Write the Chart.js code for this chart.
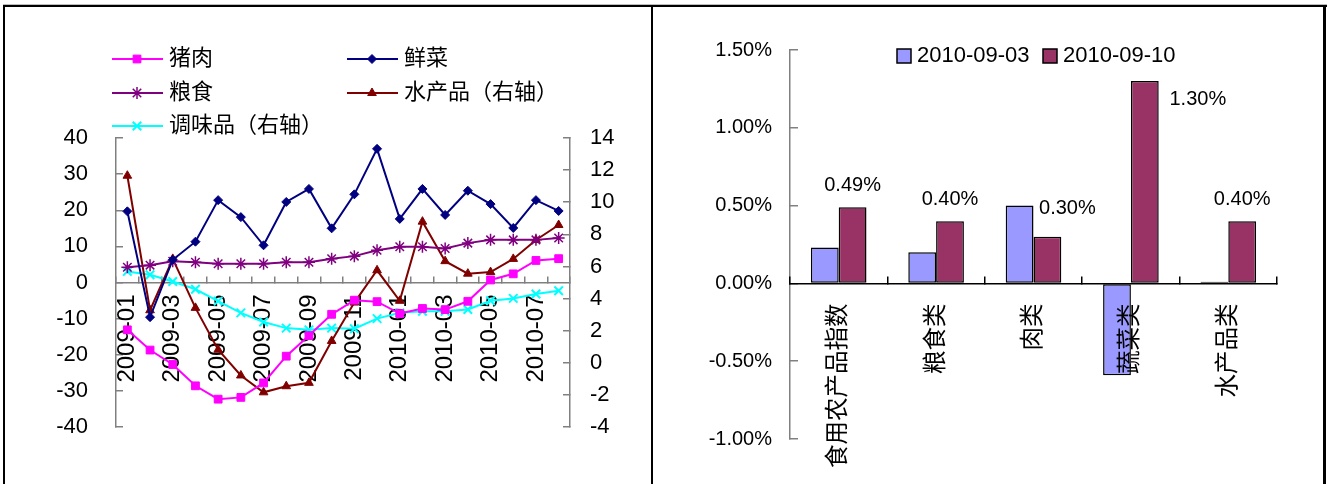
<!DOCTYPE html>
<html>
<head>
<meta charset="utf-8">
<script src="https://cdn.jsdelivr.net/npm/chart.js@4.4.1/dist/chart.umd.min.js"></script>
<style>
  html, body { margin: 0; padding: 0; background: #fff; }
  body { width: 1329px; height: 484px; position: relative; overflow: hidden; }
  canvas { position: absolute; top: 0; }
  #price { left: 0; }
  #weekly { left: 654px; }
  .frame { position: absolute; background: #000; }
</style>
</head>
<body>
<canvas id="price" width="651" height="484"></canvas>
<canvas id="weekly" width="668" height="484"></canvas>
<div class="frame" style="left:3px;top:4px;width:1324px;height:1px;background:#bbb"></div>
<div class="frame" style="left:3px;top:5px;width:1324px;height:2px"></div>
<div class="frame" style="left:3px;top:5px;width:2px;height:479px"></div>
<div class="frame" style="left:651px;top:5px;width:2px;height:479px"></div>
<div class="frame" style="left:1323px;top:5px;width:3px;height:479px"></div>
<script>
// 左图：月度同比（左轴 %），水产品、调味品用右轴
const MONTHS = ['2009-01', '2009-02', '2009-03', '2009-04', '2009-05', '2009-06', '2009-07',
                '2009-08', '2009-09', '2009-10', '2009-11', '2009-12', '2010-01', '2010-02',
                '2010-03', '2010-04', '2010-05', '2010-06', '2010-07', '2010-08'];
const PORK   = [-13.1, -18.7, -22.7, -28.6, -32.3, -31.8, -27.8, -20.4, -14.7, -8.8,
                -4.9, -5.3, -8.6, -7.2, -7.5, -5.2, 0.7, 2.4, 6.1, 6.6];
const VEG    = [19.7, -9.6, 6.3, 11.3, 22.8, 18.1, 10.3, 22.3, 25.9, 15.0,
                24.4, 37.0, 17.6, 25.9, 18.7, 25.4, 21.7, 15.1, 22.8, 19.8];
const GRAIN  = [4.2, 4.8, 5.9, 5.6, 5.2, 5.2, 5.2, 5.6, 5.6, 6.6,
                7.3, 8.9, 9.9, 9.9, 9.4, 10.9, 11.8, 11.8, 11.8, 12.3];
const AQUA   = [11.65, 3.27, 6.47, 3.42, 0.81, -0.79, -1.84, -1.46, -1.25, 1.36,
                3.75, 5.76, 3.86, 8.79, 6.33, 5.55, 5.65, 6.47, 7.65, 8.58];
const SEASON = [5.69, 5.48, 5.06, 4.58, 3.84, 3.11, 2.54, 2.16, 2.05, 2.16,
                2.12, 2.75, 3.11, 3.21, 3.21, 3.32, 3.86, 4.01, 4.28, 4.49];
const LEFT_TICKS  = [-40, -30, -20, -10, 0, 10, 20, 30, 40];
const RIGHT_TICKS = [-4, -2, 0, 2, 4, 6, 8, 10, 12, 14];

// 右图：周环比
const CATS  = ['食用农产品指数', '粮食类', '肉类', '蔬菜类', '水产品类'];
const WEEKS = ['2010-09-03', '2010-09-10'];
const WEEK1 = [0.23, 0.20, 0.50, -0.59, 0.01];
const WEEK2 = [0.49, 0.40, 0.30, 1.30, 0.40];
const PCT_TICKS = [-1.0, -0.5, 0, 0.5, 1.0, 1.5];

const FONT = '"Liberation Sans", Arial, "Noto Sans CJK SC", sans-serif';
const AXIS_GRAY = '#808080';
Chart.defaults.font.family = FONT;
Chart.defaults.color = '#000';

// 图例位置（画布坐标）：线段起点 x、行中心 y
const LEGEND1_POS = [[112, 59], [347, 59], [112, 93], [347, 93], [112, 126]];
const LEGEND2_POS = [[243, 56], [389, 56]];
// 数据标签相对柱顶的偏移（Excel 手动摆放）
const LABEL_DX = [0, 0, 20, 53, 0];
const LABEL_DY = [-22, -22, -28, 18, -22];

const lineLegend = {
  id: 'lineLegend',
  afterDraw(chart) {
    const ctx = chart.ctx;
    ctx.save();
    chart.data.datasets.forEach((ds, i) => {
      const [x, y] = LEGEND1_POS[i];
      ctx.strokeStyle = ds.borderColor;
      ctx.lineWidth = 2;
      ctx.beginPath(); ctx.moveTo(x, y); ctx.lineTo(x + 51, y); ctx.stroke();
      ctx.fillStyle = ds.pointBackgroundColor;
      ctx.strokeStyle = ds.pointBorderColor;
      ctx.lineWidth = ds.pointBorderWidth;
      Chart.helpers.drawPoint(ctx, {
        pointStyle: ds.pointStyle, radius: ds.pointRadius, rotation: 0, borderWidth: ds.pointBorderWidth
      }, x + 25, y);
      ctx.fillStyle = '#000';
      ctx.font = '22px ' + FONT;
      ctx.textAlign = 'left';
      ctx.textBaseline = 'middle';
      ctx.fillText(ds.label, x + 57, y);
    });
    ctx.restore();
  }
};

const barLegend = {
  id: 'barLegend',
  afterDraw(chart) {
    const ctx = chart.ctx;
    ctx.save();
    chart.data.datasets.forEach((ds, i) => {
      const [x, y] = LEGEND2_POS[i];
      ctx.fillStyle = ds.backgroundColor;
      ctx.fillRect(x, y - 7, 14, 14);
      ctx.strokeStyle = '#000';
      ctx.lineWidth = 1.5;
      ctx.strokeRect(x, y - 7, 14, 14);
      ctx.fillStyle = '#000';
      ctx.font = '22px ' + FONT;
      ctx.textAlign = 'left';
      ctx.textBaseline = 'middle';
      ctx.fillText(ds.label, x + 20, y);
    });
    ctx.restore();
  }
};

const valueLabels = {
  id: 'valueLabels',
  afterDatasetsDraw(chart) {
    const ctx = chart.ctx;
    const meta = chart.getDatasetMeta(1);
    ctx.save();
    ctx.font = '20px ' + FONT;
    ctx.fillStyle = '#000';
    ctx.textAlign = 'center';
    ctx.textBaseline = 'middle';
    meta.data.forEach((bar, i) => {
      ctx.fillText(WEEK2[i].toFixed(2) + '%', bar.x + LABEL_DX[i], bar.y + LABEL_DY[i]);
    });
    ctx.restore();
  }
};

function series(label, data, axis, color, style, radius, bw) {
  return {
    label, data, yAxisID: axis,
    borderColor: color, backgroundColor: color,
    pointBackgroundColor: color, pointBorderColor: color,
    pointStyle: style, pointRadius: radius, pointBorderWidth: bw,
    borderWidth: 2, tension: 0
  };
}

function bars(label, data, color) {
  return {
    label, data, backgroundColor: color,
    borderColor: '#000', borderWidth: 1.5, borderSkipped: false,
    categoryPercentage: 0.571, barPercentage: 1
  };
}

new Chart(document.getElementById('price'), {
  type: 'line',
  data: {
    labels: MONTHS,
    datasets: [
      series('猪肉', PORK, 'y', '#FF00FF', 'rect', 5.5, 1),
      series('鲜菜', VEG, 'y', '#000080', 'rectRot', 4.5, 1),
      series('粮食', GRAIN, 'y', '#800080', 'star', 6, 1.5),
      series('水产品（右轴）', AQUA, 'y1', '#800000', 'triangle', 5, 1),
      series('调味品（右轴）', SEASON, 'y1', '#00FFFF', 'crossRot', 6, 2)
    ]
  },
  options: {
    responsive: false, animation: false, devicePixelRatio: 1,
    layout: { padding: { left: 0, right: 0, top: 138, bottom: 57 } },
    plugins: { legend: { display: false }, tooltip: { enabled: false } },
    scales: {
      x: {
        position: { y: 0 }, offset: true,
        grid: { drawOnChartArea: false, offset: true, tickLength: -7, color: AXIS_GRAY, lineWidth: 1.5 },
        border: { color: AXIS_GRAY, width: 1.5 },
        ticks: {
          autoSkip: false, minRotation: 90, maxRotation: 90, padding: 19,
          font: { size: 24 },
          callback: (v, i) => (i % 2 === 0 ? MONTHS[i] : '')
        }
      },
      y: {
        position: 'left', min: -40, max: 40,
        afterFit: s => { s.width = 116; },
        afterBuildTicks: s => { s.ticks = LEFT_TICKS.map(v => ({ value: v })); },
        grid: { drawOnChartArea: false, tickLength: -7, color: AXIS_GRAY, lineWidth: 1.5 },
        border: { color: AXIS_GRAY, width: 1.5 },
        ticks: { padding: 35, font: { size: 22 } }
      },
      y1: {
        position: 'right', min: -4, max: 14,
        afterFit: s => { s.width = 81; },
        afterBuildTicks: s => { s.ticks = RIGHT_TICKS.map(v => ({ value: v })); },
        grid: { drawOnChartArea: false, tickLength: -7, color: AXIS_GRAY, lineWidth: 1.5 },
        border: { color: AXIS_GRAY, width: 1.5 },
        ticks: { padding: 27, font: { size: 22 } }
      }
    }
  },
  plugins: [lineLegend]
});

new Chart(document.getElementById('weekly'), {
  type: 'bar',
  data: {
    labels: CATS,
    datasets: [
      bars(WEEKS[0], WEEK1, '#9999FF'),
      bars(WEEKS[1], WEEK2, '#993366')
    ]
  },
  options: {
    responsive: false, animation: false, devicePixelRatio: 1,
    layout: { padding: { left: 0, right: 45, top: 50, bottom: 45 } },
    plugins: { legend: { display: false }, tooltip: { enabled: false } },
    scales: {
      x: {
        position: { y: 0 },
        grid: { drawOnChartArea: false, offset: true, tickLength: -8, color: '#000', lineWidth: 1.5, z: 1 },
        border: { color: '#000', width: 1.5, z: 1 },
        ticks: { z: 1, autoSkip: false, minRotation: 90, maxRotation: 90, padding: 28, font: { size: 23.5 } }
      },
      y: {
        min: -1, max: 1.5,
        afterFit: s => { s.width = 136; },
        afterBuildTicks: s => { s.ticks = PCT_TICKS.map(v => ({ value: v })); },
        grid: { drawOnChartArea: false, tickLength: -8, color: AXIS_GRAY, lineWidth: 1.5 },
        border: { color: AXIS_GRAY, width: 1.5 },
        ticks: { padding: 26, font: { size: 20 }, callback: v => v.toFixed(2) + '%' }
      }
    }
  },
  plugins: [valueLabels, barLegend]
});
</script>
</body>
</html>
